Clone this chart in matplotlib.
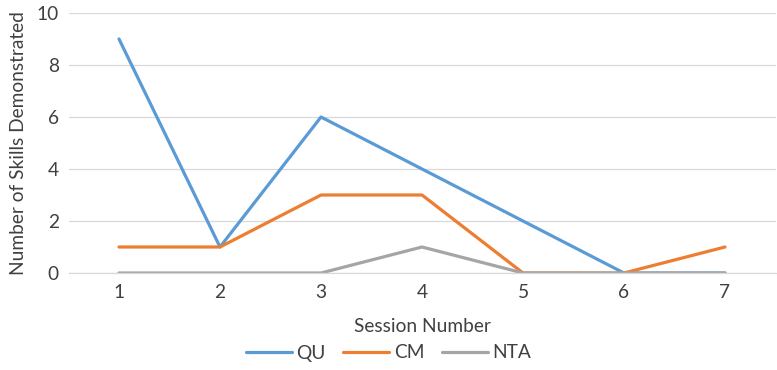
import matplotlib.pyplot as plt

sessions = [1, 2, 3, 4, 5, 6, 7]
qu = [9, 1, 6, 4, 2, 0, 0]
cm = [1, 1, 3, 3, 0, 0, 1]
nta = [0, 0, 0, 1, 0, 0, 0]

plt.rcParams['font.family'] = ['Lato', 'DejaVu Sans']
TXT = '#404040'
FS = 13.8

fig = plt.figure(figsize=(7.77, 3.70), dpi=100)
ax = fig.add_axes([68.5 / 777, 1 - 273 / 370, 707 / 777, 260 / 370])

ax.plot(sessions, qu, color='#5B9BD5', lw=2.3, label='QU', solid_capstyle='round', solid_joinstyle='round')
ax.plot(sessions, cm, color='#ED7D31', lw=2.3, label='CM', solid_capstyle='round', solid_joinstyle='round')
ax.plot(sessions, nta, color='#A5A5A5', lw=2.3, label='NTA', solid_capstyle='round', solid_joinstyle='round')

ax.set_xlim(0.5, 7.5)
ax.set_ylim(0, 10)
ax.set_xticks(sessions)
ax.set_yticks(range(0, 11, 2))
ax.grid(axis='y', color='#D9D9D9', lw=0.9)
ax.set_axisbelow(True)
for s in ['top', 'right', 'left']:
    ax.spines[s].set_visible(False)
ax.spines['bottom'].set_color('#D9D9D9')
ax.spines['bottom'].set_linewidth(0.9)
ax.tick_params(length=0, labelsize=FS, colors=TXT)
ax.tick_params(axis='x', pad=8)
ax.tick_params(axis='y', pad=7)

ax.set_xlabel('Session Number', fontsize=FS, color=TXT, labelpad=12)
ax.set_ylabel('Number of Skills Demonstrated', fontsize=FS, color=TXT)
ax.yaxis.set_label_coords((27 - 68.5) / 707, 0.5)

fig.legend(loc='center', bbox_to_anchor=(0.5, 1 - 353 / 370), ncol=3, frameon=False,
           fontsize=FS, handlelength=2.4, columnspacing=0.9, handletextpad=0.25,
           labelcolor=TXT)

fig.savefig('out.png', dpi=100)
